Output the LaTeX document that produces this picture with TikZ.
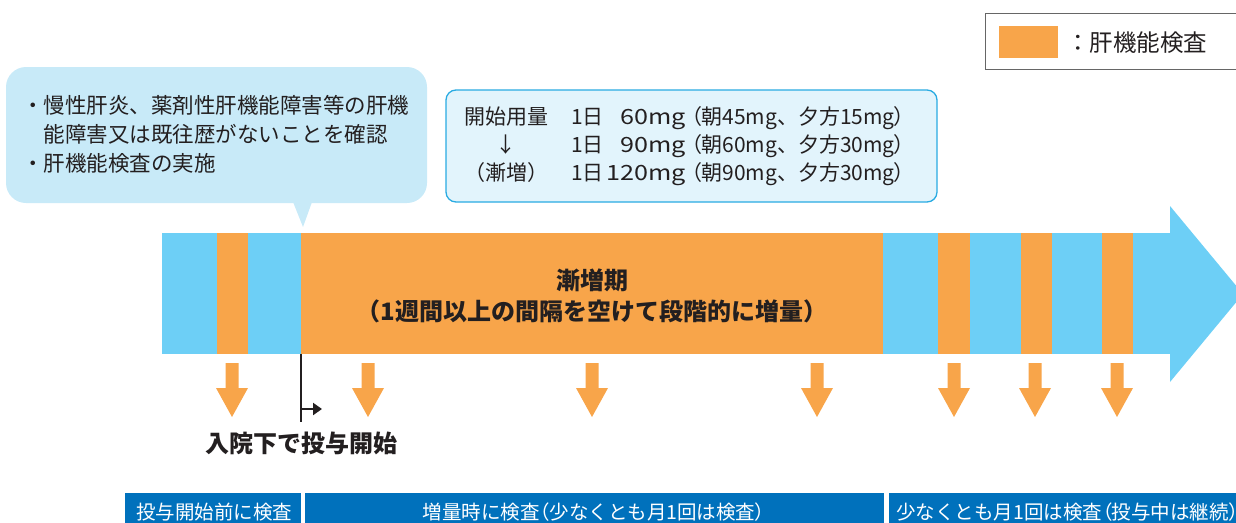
\documentclass[tikz,border=0pt]{standalone}
\usepackage{fontspec}
\setmainfont{Noto Sans CJK JP}
\newfontfamily\jpp[RawFeature=+palt]{Noto Sans CJK JP}
\newfontfamily\jpwide[FakeStretch=1.2]{Noto Sans CJK JP}
\newcommand{\plp}{{\jpp （}}
\newcommand{\prp}{{\jpp ）}}
\usetikzlibrary{arrows.meta}
\definecolor{barblue}{HTML}{6DCFF6}
\definecolor{barorange}{HTML}{F8A54A}
\definecolor{callout}{HTML}{C8EAF8}
\definecolor{dosefill}{HTML}{E2F4FC}
\definecolor{doseline}{HTML}{29ABE2}
\definecolor{darkblue}{HTML}{0071BC}
\definecolor{ink}{HTML}{231F20}
\definecolor{legline}{HTML}{666666}
\tikzset{
  txt/.style={inner sep=0pt, outer sep=0pt, text=ink},
  callouttxt/.style={txt, anchor=base west, font=\fontsize{21.5}{26}\selectfont},
  dosetxt/.style={txt, font=\fontsize{21}{26}\selectfont},
  widetxt/.style={dosetxt, anchor=base east, font=\jpwide\fontsize{21}{26}\selectfont},
  bartxt/.style={txt, anchor=base, font=\bfseries\fontsize{24}{28}\selectfont},
  bottomtxt/.style={inner sep=0pt, text=white, font=\fontsize{19.5}{24}\selectfont},
  downarrow/.style={fill=barorange},
}
\begin{document}
\begin{tikzpicture}[x=1pt,y=-1pt]
\useasboundingbox (0,0) rectangle (1236,522);
% legend
\draw[legline, line width=1] (985,13) rectangle (1250,69);
\fill[barorange] (999,26) rectangle (1058,58);
\node[txt, anchor=base west, font=\fontsize{23.5}{26}\selectfont] (leg) at (1066,51.5) {：肝機能検査};
% callout
\fill[callout, rounded corners=20pt] (6,67) rectangle (427,203);
\fill[callout] (293,202) -- (303,227) -- (312,202) -- cycle;
\node[callouttxt] (cl1) at (22,113) {・慢性肝炎、薬剤性肝機能障害等の肝機};
\node[callouttxt] (cl2) at (43.5,142) {能障害又は既往歴がないことを確認};
\node[callouttxt] (cl3) at (22,171) {・肝機能検査の実施};
% dosage box
\draw[doseline, fill=dosefill, line width=1.3, rounded corners=10pt] (446,90) rectangle (937,202);
\node[dosetxt, anchor=base] (d1a) at (506,124) {開始用量};
\node[dosetxt, anchor=base] (d2a) at (506,152) {↓};
\node[dosetxt, anchor=base] (d3a) at (506,180) {（漸増）};
\node[dosetxt, anchor=base west] (d1b) at (571,124) {1日};
\node[dosetxt, anchor=base west] (d2b) at (571,152) {1日};
\node[dosetxt, anchor=base west] (d3b) at (571,180) {1日};
\node[widetxt] (d1c) at (686,124) {60mg};
\node[widetxt] (d2c) at (686,152) {90mg};
\node[widetxt] (d3c) at (686,180) {120mg};
\node[dosetxt, anchor=base west] (d1d) at (691,124) {\plp 朝45mg、夕方15mg\prp};
\node[dosetxt, anchor=base west] (d2d) at (691,152) {\plp 朝60mg、夕方30mg\prp};
\node[dosetxt, anchor=base west] (d3d) at (691,180) {\plp 朝90mg、夕方30mg\prp};
% timeline bar
\fill[barblue] (162,233) rectangle (1171,354);
\fill[barblue] (1170,206) -- (1243,294) -- (1170,382) -- cycle;
\fill[barorange] (217,233) rectangle (248,354);
\fill[barorange] (301,233) rectangle (883,354);
\fill[barorange] (938,233) rectangle (970,354);
\fill[barorange] (1021,233) rectangle (1052,354);
\fill[barorange] (1102,233) rectangle (1133,354);
\node[bartxt] (ph1) at (592,289) {漸増期};
\node[bartxt] (ph2) at (592,320) {（1週間以上の間隔を空けて段階的に増量）};
% down arrows
\foreach \x in {232,368,592,817,954,1035,1117}{
  \fill[downarrow] ({\x-6.5},363) -- ({\x+6.5},363) -- ({\x+6.5},388) -- ({\x+16},388) -- (\x,417) -- ({\x-16},388) -- ({\x-6.5},388) -- cycle;
}
% start marker
\coordinate (s0) at (301,354);
\coordinate (s1) at (301,422);
\coordinate (s2) at (301,409);
\coordinate (s3) at (322,409);
\draw[ink, line width=2.2] (s0) -- (s1);
\draw[ink, line width=2.2, -{Triangle[length=9,width=12]}] (s2) -- (s3);
\node[bartxt] (start) at (301,452) {入院下で投与開始};
% bottom bars
\fill[darkblue] (125,493) rectangle (301,530);
\fill[darkblue] (305,493) rectangle (884,530);
\fill[darkblue] (889,493) rectangle (1245,530);
\node[bottomtxt, anchor=base] (b1) at (214,519) {投与開始前に検査};
\node[bottomtxt, anchor=base] (b2) at (594,519) {増量時に検査\plp 少なくとも月1回は検査\prp};
\node[bottomtxt, anchor=base west] (b3) at (896,519) {少なくとも月1回は検査\plp 投与中は継続\prp};
\end{tikzpicture}
\end{document}
